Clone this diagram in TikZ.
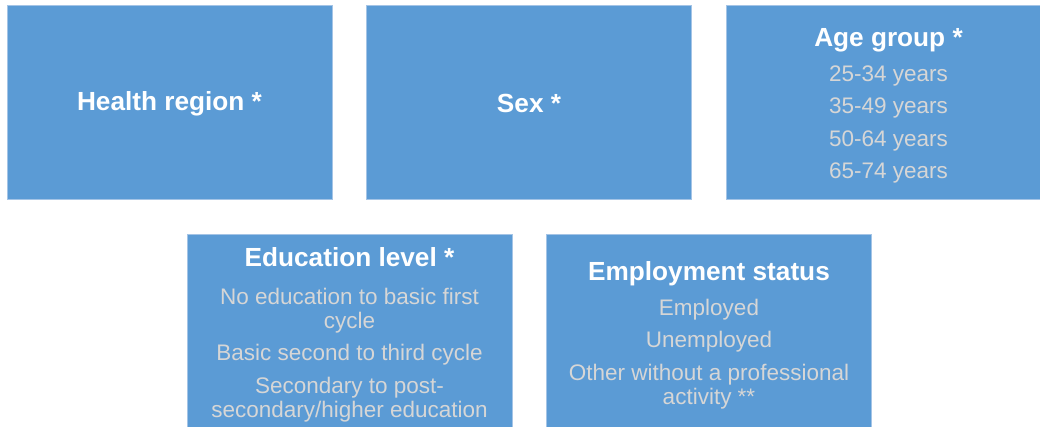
\documentclass[tikz,border=0pt]{standalone}
\usepackage{fontspec}
\setmainfont{Liberation Sans}
\definecolor{boxfill}{HTML}{5B9BD5}
\definecolor{boxline}{HTML}{A4C4E6}
\definecolor{itemgray}{HTML}{D6D6D6}
\newcommand{\ttl}[1]{{\color{white}\bfseries\fontsize{26.2}{28}\selectfont #1}}
\begin{document}
\begin{tikzpicture}[x=1pt,y=-1pt,
  catbox/.style={draw=boxline, line width=1pt, fill=boxfill, minimum width=325pt,
    minimum height=194pt, inner sep=0pt},
  cattext/.style={inner sep=0pt, align=center, text=itemgray,
    font=\fontsize{22.5}{24}\selectfont}]
\clip (0,0) rectangle (1040,426);
\useasboundingbox (0,0) rectangle (1040,426);
\node[catbox] (region) at (169.5,102) {};
\node[catbox] (sex) at (529,102) {};
\node[catbox] (age) at (888.5,102) {};
\node[catbox] (edu) at (349.5,331) {};
\node[catbox] (emp) at (709,331) {};
\node[cattext] (regiont) at ([yshift=-1.5pt]region.center) {\ttl{Health region *}};
\node[cattext] (sext) at ([yshift=-1.5pt]sex.center) {\ttl{Sex *}};
\node[cattext] (aget) at ([yshift=-4pt]age.center) {\ttl{Age group *}\\[10.8pt]
  25-34 years\\[8.5pt]35-49 years\\[8.5pt]50-64 years\\[8.5pt]65-74 years};
\node[cattext] (edut) at ([yshift=-4pt]edu.center) {\ttl{Education level *}\\[13.5pt]
  No education to basic first\\cycle\\[8.5pt]Basic second to third cycle\\[8.5pt]
  Secondary to post-\\secondary/higher education};
\node[cattext] (empt) at ([yshift=-4pt]emp.center) {\ttl{Employment status}\\[10.8pt]
  Employed\\[8.5pt]Unemployed\\[8.5pt]Other without a professional\\activity **};
\end{tikzpicture}
\end{document}
